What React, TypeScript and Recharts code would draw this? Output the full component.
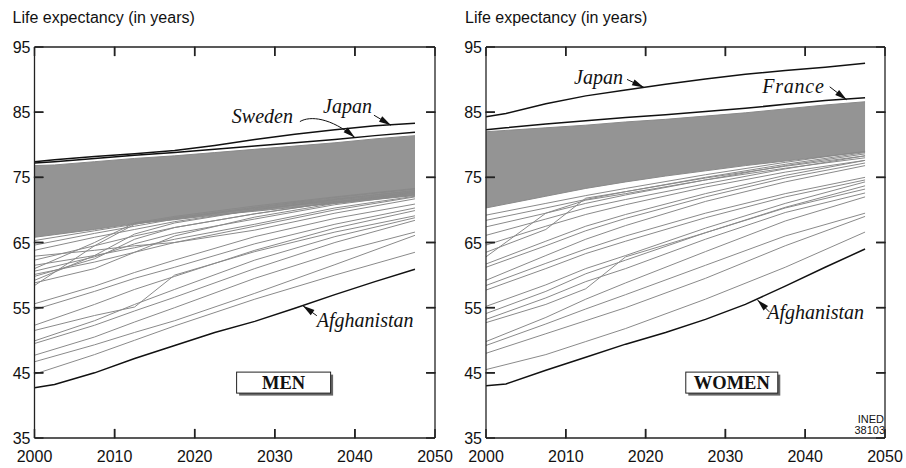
import React from 'react';
import { ComposedChart, Line, Area, XAxis, YAxis, ReferenceDot } from 'recharts';

// ---------- data ----------
const keyYears = [2000, 2002.5, 2007.5, 2012.5, 2017.5, 2022.5, 2027.5, 2032.5, 2037.5, 2042.5, 2047.5];
const grayYears = [2000, 2007.5, 2012.5, 2017.5, 2027.5, 2037.5, 2047.5];
const xTicks = [2000, 2010, 2020, 2030, 2040, 2050];
const yTicks = [35, 45, 55, 65, 75, 85, 95];

// MEN (highlighted countries, on keyYears)
const menJapan = [77.4, 77.7, 78.2, 78.6, 79.1, 79.9, 80.8, 81.6, 82.3, 82.9, 83.3];
const menSweden = [77.2, 77.4, 77.9, 78.4, 78.8, 79.3, 79.8, 80.3, 80.8, 81.4, 81.9];
const menAfghanistan = [42.7, 43.2, 45.0, 47.2, 49.2, 51.2, 52.9, 54.9, 57.0, 59.0, 60.9];
// MEN dense bundle of countries (envelope, on keyYears)
const menBandHigh = [76.8, 76.9, 77.4, 77.9, 78.3, 78.8, 79.3, 79.8, 80.3, 80.9, 81.4];
const menBandLow = [65.8, 66.2, 67.0, 67.9, 68.5, 69.2, 69.8, 70.4, 71.0, 71.6, 72.2];
// MEN other countries (on grayYears)
const menOthers = [
  [44.8, 47.8, 50.0, 52.2, 56.3, 60.0, 63.5],
  [46.7, 49.3, 51.2, 53.0, 57.2, 61.6, 66.1],
  [47.7, 50.5, 52.8, 55.0, 59.5, 63.4, 66.6],
  [49.5, 52.3, 54.5, 56.6, 61.0, 65.0, 68.4],
  [49.9, 53.0, 55.5, 57.8, 62.3, 65.9, 68.8],
  [51.5, 53.8, 55.1, 60.0, 63.6, 66.6, 69.1],
  [52.3, 55.5, 57.8, 59.8, 63.8, 67.2, 69.9],
  [54.7, 57.5, 59.5, 61.2, 64.8, 67.8, 70.3],
  [55.6, 58.3, 60.4, 62.3, 65.9, 68.7, 70.9],
  [58.4, 64.5, 67.8, 68.8, 70.4, 71.9, 73.2],
  [58.8, 61.0, 63.5, 66.0, 68.9, 71.0, 72.6],
  [59.2, 63.0, 66.3, 68.0, 70.0, 71.6, 73.0],
  [59.8, 62.5, 65.5, 67.3, 69.4, 71.2, 72.8],
  [60.1, 62.0, 63.5, 65.0, 67.5, 70.0, 72.0],
  [60.6, 62.8, 64.8, 66.4, 68.6, 70.8, 72.4],
  [61.0, 65.0, 68.0, 69.0, 70.6, 72.0, 73.3],
  [61.5, 63.0, 64.2, 65.5, 67.8, 70.3, 72.1],
  [62.3, 64.5, 66.0, 67.3, 69.4, 71.2, 72.6],
  [62.9, 63.8, 64.5, 65.0, 66.9, 69.5, 71.7],
  [63.8, 65.8, 67.0, 68.2, 70.0, 71.5, 72.7],
  [64.6, 66.4, 67.5, 68.6, 70.3, 71.7, 72.9],
  [65.3, 66.8, 67.8, 68.8, 70.2, 71.3, 72.3],
];

// WOMEN (highlighted countries, on keyYears)
const womenJapan = [84.3, 84.8, 86.3, 87.5, 88.4, 89.3, 90.1, 90.8, 91.4, 91.9, 92.5];
const womenFrance = [82.3, 82.6, 83.2, 83.7, 84.2, 84.6, 85.1, 85.6, 86.2, 86.8, 87.2];
const womenAfghanistan = [43.0, 43.3, 45.4, 47.4, 49.4, 51.2, 53.2, 55.5, 58.3, 61.2, 64.0];
// WOMEN dense bundle of countries (envelope, on keyYears)
const womenBandHigh = [82.0, 82.2, 82.6, 83.0, 83.5, 83.9, 84.4, 84.9, 85.5, 86.1, 86.6];
const womenBandLow = [70.3, 70.9, 72.1, 73.3, 74.3, 75.2, 76.0, 76.8, 77.5, 78.2, 78.9];
// WOMEN other countries (on grayYears)
const womenOthers = [
  [45.5, 47.8, 49.8, 51.8, 56.3, 61.2, 66.6],
  [48.0, 51.0, 53.0, 55.0, 59.5, 64.5, 69.0],
  [49.2, 52.5, 54.8, 57.0, 61.5, 66.0, 69.5],
  [49.8, 53.5, 56.3, 58.8, 63.6, 68.3, 72.0],
  [52.7, 55.5, 57.9, 62.8, 66.5, 70.3, 73.2],
  [53.2, 56.5, 59.0, 61.0, 65.5, 69.6, 72.6],
  [54.1, 57.5, 60.2, 62.3, 66.5, 70.4, 73.7],
  [55.2, 58.5, 61.0, 63.0, 67.2, 71.0, 74.3],
  [57.7, 61.0, 63.3, 65.2, 68.8, 72.0, 74.6],
  [58.4, 61.8, 64.0, 66.0, 69.5, 72.5, 75.0],
  [59.2, 63.0, 65.5, 67.6, 71.3, 74.3, 76.8],
  [61.2, 64.5, 66.8, 68.7, 72.0, 74.9, 77.2],
  [61.7, 65.2, 67.5, 69.3, 72.5, 75.3, 77.6],
  [62.8, 69.5, 71.5, 72.5, 74.6, 76.4, 78.0],
  [63.5, 67.0, 71.8, 72.8, 74.9, 76.7, 78.3],
  [64.6, 67.5, 69.3, 70.8, 73.5, 75.8, 77.6],
  [66.1, 68.6, 70.3, 71.6, 74.0, 76.3, 78.3],
  [67.4, 69.5, 71.0, 72.3, 74.6, 76.8, 78.6],
  [68.4, 70.3, 71.6, 72.8, 75.0, 77.0, 78.8],
  [69.2, 71.0, 72.2, 73.3, 75.4, 77.3, 79.0],
];

// ---------- styles ----------
const SANS = "'Liberation Sans', Arial, Helvetica, sans-serif";
const SERIF = "'Liberation Serif', 'Times New Roman', Times, serif";
const AXIS = '#222';
const GRAY = '#8a8a8a';
const BLACK = '#111';
const X_MIN = 2000, X_MAX = 2050, Y_MIN = 35, Y_MAX = 95;
const TICK_X = 1.1;  // inward tick length along x, in years
const TICK_Y = 1.4;  // inward tick length along y, in years of life
const TICK_PX = 9;

type Row = Record<string, any>;

function buildRows(black: Record<string, number[]>, low: number[], high: number[], others: number[][]): Row[] {
  return keyYears.map((year, i) => {
    const row: Row = { year, band: [low[i], high[i]] };
    Object.keys(black).forEach((k) => { row[k] = black[k][i]; });
    const gi = grayYears.indexOf(year);
    others.forEach((s, j) => { row['g' + j] = gi >= 0 ? s[gi] : null; });
    return row;
  });
}

const menRows = buildRows({ japan: menJapan, sweden: menSweden, afghanistan: menAfghanistan }, menBandLow, menBandHigh, menOthers);
const womenRows = buildRows({ japan: womenJapan, france: womenFrance, afghanistan: womenAfghanistan }, womenBandLow, womenBandHigh, womenOthers);

// ---------- tick labels (axis tick lines point inward via negative tickSize) ----------
const BottomTick = (p: any) => (
  <text x={p.x} y={p.y + 24} textAnchor="middle" fontFamily={SANS} fontSize={16} fill={BLACK} stroke="none">{p.payload.value}</text>
);
const LeftTick = (p: any) => (
  <text x={p.x - 4} y={p.y + 6} textAnchor="end" fontFamily={SANS} fontSize={16} fill={BLACK} stroke="none">{p.payload.value}</text>
);
const NoLabel = () => <g />;

// extra inward tick marks drawn through the chart scales (dot just inside the frame)
function tickMark(dx: number, dy: number) {
  return (p: any) => (
    <g>
      <path d={`M${p.cx},${p.cy} L${p.cx + dx},${p.cy + dy}`} stroke={AXIS} strokeWidth={1.5} fill="none" />
    </g>
  );
}
const tickToBottom = tickMark(0, 9.5);
const tickToTop = tickMark(0, -9.5);
const tickToLeft = tickMark(-9.5, 0);
const tickToRight = tickMark(9.5, 0);

// ---------- annotations ----------
type Note = {
  x: number; y: number; text: string; tx: number; ty: number; anchor: 'start' | 'end';
  tail: [number, number]; c1?: [number, number]; c2?: [number, number]; spacing?: number;
};

function noteShape(n: Note) {
  return (p: any) => {
    const cx = p.cx, cy = p.cy;
    const [ax, ay] = n.tail;
    const dx = n.c2 ? -n.c2[0] : -ax;
    const dy = n.c2 ? -n.c2[1] : -ay;
    const len = Math.hypot(dx, dy) || 1;
    const ux = dx / len, uy = dy / len;
    const hl = 12, hw = 3.2;
    const bx = cx - ux * hl, by = cy - uy * hl;
    const pts = `${cx},${cy} ${bx - uy * hw},${by + ux * hw} ${bx + uy * hw},${by - ux * hw}`;
    const d = n.c1 && n.c2
      ? `M${cx + ax},${cy + ay} C${cx + n.c1[0]},${cy + n.c1[1]} ${cx + n.c2[0]},${cy + n.c2[1]} ${cx},${cy}`
      : `M${cx + ax},${cy + ay} L${cx},${cy}`;
    return (
      <g>
        <path d={d} fill="none" stroke={BLACK} strokeWidth={1} />
        <polygon points={pts} fill={BLACK} />
        <text x={cx + n.tx} y={cy + n.ty} textAnchor={n.anchor} fontFamily={SERIF} fontStyle="italic"
          fontSize={20} letterSpacing={n.spacing ?? 0} fill={BLACK}>{n.text}</text>
      </g>
    );
  };
}

function boxShape(label: string, w: number) {
  return (p: any) => {
    const cx = p.cx, cy = p.cy, h = 21;
    return (
      <g>
        <rect x={cx - w / 2 + 2.5} y={cy - h / 2 + 2.5} width={w} height={h} fill="#666" />
        <rect x={cx - w / 2} y={cy - h / 2} width={w} height={h} fill="#fff" stroke="#222" strokeWidth={1} />
        <text x={cx} y={cy + 6.5} textAnchor="middle" fontFamily={SERIF} fontWeight="bold" fontSize={18.5} fill={BLACK}>{label}</text>
      </g>
    );
  };
}

const menNotes: Note[] = [
  { x: 2044.5, y: 83.0, text: 'Japan', tx: -19, ty: -12, anchor: 'end', tail: [-17, -10] },
  { x: 2040, y: 81.1, text: 'Sweden', tx: -62, ty: -15, anchor: 'end', tail: [-55, -16], c1: [-45, -22], c2: [-24, -20] },
  { x: 2033.5, y: 55.3, text: 'Afghanistan', tx: 14, ty: 21, anchor: 'start', tail: [14, 10] },
];
const womenNotes: Note[] = [
  { x: 2019.8, y: 88.8, text: 'Japan', tx: -21, ty: -3, anchor: 'end', tail: [-17, -8] },
  { x: 2045.2, y: 86.9, text: 'France', tx: -22, ty: -7, anchor: 'end', tail: [-17, -13], spacing: 0.8 },
  { x: 2034, y: 56.2, text: 'Afghanistan', tx: 10, ty: 19, anchor: 'start', tail: [12, 12] },
];

// ---------- panel ----------
type PanelProps = {
  left: number; rows: Row[]; blackKeys: string[]; othersCount: number;
  margin: { top: number; right: number; bottom: number; left: number };
  notes: Note[]; box: { x: number; y: number; label: string; w: number };
};

function Panel({ left, rows, blackKeys, othersCount, margin, notes, box }: PanelProps) {
  const grays = Array.from({ length: othersCount }, (_, j) => 'g' + j);
  const innerX = xTicks.filter((t) => t > X_MIN && t < X_MAX);
  const innerY = yTicks.filter((t) => t > Y_MIN && t < Y_MAX);
  const tickLineStyle = { stroke: AXIS, strokeWidth: 1.5 };
  return (
    <div style={{ position: 'absolute', left, top: 0 }}>
      <ComposedChart width={453} height={468} data={rows} margin={margin}>
        <Area xAxisId="b" yAxisId="l" dataKey="band" type="linear" stroke={GRAY} strokeWidth={1}
          fill="#949494" fillOpacity={1} isAnimationActive={false} dot={false} activeDot={false} />
        {grays.map((k) => (
          <Line key={k} xAxisId="b" yAxisId="l" dataKey={k} type="linear" stroke={GRAY} strokeWidth={1}
            dot={false} activeDot={false} connectNulls isAnimationActive={false} />
        ))}
        {blackKeys.map((k) => (
          <Line key={k} xAxisId="b" yAxisId="l" dataKey={k} type="linear" stroke={BLACK} strokeWidth={1.5}
            dot={false} activeDot={false} isAnimationActive={false} />
        ))}
        <XAxis xAxisId="b" dataKey="year" type="number" domain={[X_MIN, X_MAX]} ticks={xTicks} interval={0}
          orientation="bottom" height={1} tickSize={-TICK_PX} tickMargin={TICK_PX} tickLine={tickLineStyle}
          axisLine={{ stroke: AXIS, strokeWidth: 1.3 }} tick={BottomTick} allowDataOverflow />
        <XAxis xAxisId="t" dataKey="year" type="number" domain={[X_MIN, X_MAX]} ticks={xTicks} interval={0}
          orientation="top" height={1} tickSize={-TICK_PX} tickMargin={TICK_PX} tickLine={tickLineStyle}
          axisLine={{ stroke: AXIS, strokeWidth: 1.3 }} tick={NoLabel} allowDataOverflow />
        <YAxis yAxisId="l" type="number" domain={[Y_MIN, Y_MAX]} ticks={yTicks} interval={0} orientation="left"
          width={1} tickSize={-TICK_PX} tickMargin={TICK_PX} tickLine={tickLineStyle}
          axisLine={{ stroke: AXIS, strokeWidth: 1.3 }} tick={LeftTick} allowDataOverflow />
        <YAxis yAxisId="r" type="number" domain={[Y_MIN, Y_MAX]} ticks={yTicks} interval={0} orientation="right"
          width={1} tickSize={-TICK_PX} tickMargin={TICK_PX} tickLine={tickLineStyle}
          axisLine={{ stroke: AXIS, strokeWidth: 1.3 }} tick={NoLabel} allowDataOverflow />
        {innerX.map((t) => (
          <ReferenceDot key={'xb' + t} xAxisId="b" yAxisId="l" x={t} y={Y_MIN + TICK_Y} r={1} fill="none" stroke="none" ifOverflow="visible" shape={tickToBottom} />
        ))}
        {innerX.map((t) => (
          <ReferenceDot key={'xt' + t} xAxisId="b" yAxisId="l" x={t} y={Y_MAX - TICK_Y} r={1} fill="none" stroke="none" ifOverflow="visible" shape={tickToTop} />
        ))}
        {innerY.map((t) => (
          <ReferenceDot key={'yl' + t} xAxisId="b" yAxisId="l" x={X_MIN + TICK_X} y={t} r={1} fill="none" stroke="none" ifOverflow="visible" shape={tickToLeft} />
        ))}
        {innerY.map((t) => (
          <ReferenceDot key={'yr' + t} xAxisId="b" yAxisId="l" x={X_MAX - TICK_X} y={t} r={1} fill="none" stroke="none" ifOverflow="visible" shape={tickToRight} />
        ))}
        {notes.map((n) => (
          <ReferenceDot key={n.text} xAxisId="b" yAxisId="l" x={n.x} y={n.y} r={0} ifOverflow="visible" shape={noteShape(n)} />
        ))}
        <ReferenceDot xAxisId="b" yAxisId="l" x={box.x} y={box.y} r={0} ifOverflow="visible" shape={boxShape(box.label, box.w)} />
      </ComposedChart>
    </div>
  );
}

export default function App() {
  return (
    <div style={{ position: 'absolute', left: 0, top: 0, width: 906, height: 468, background: '#fff', overflow: 'hidden' }}>
      <Panel left={0} rows={menRows} blackKeys={['japan', 'sweden', 'afghanistan']} othersCount={menOthers.length}
        margin={{ top: 46, right: 17, bottom: 29, left: 33.5 }} notes={menNotes}
        box={{ x: 2031.1, y: 43.5, label: 'MEN', w: 94 }} />
      <Panel left={453} rows={womenRows} blackKeys={['japan', 'france', 'afghanistan']} othersCount={womenOthers.length}
        margin={{ top: 46, right: 20, bottom: 29, left: 32 }} notes={womenNotes}
        box={{ x: 2030.8, y: 43.5, label: 'WOMEN', w: 92 }} />
      <svg width={906} height={468} style={{ position: 'absolute', left: 0, top: 0, pointerEvents: 'none' }}>
        <text x={12.5} y={23} fontFamily={SANS} fontSize={16} fill={BLACK}>Life expectancy (in years)</text>
        <text x={465} y={23} fontFamily={SANS} fontSize={16} fill={BLACK}>Life expectancy (in years)</text>
        <text x={884} y={423} textAnchor="end" fontFamily={"'Liberation Sans Narrow', " + SANS} fontSize={11} fill={BLACK}>INED</text>
        <text x={885} y={434} textAnchor="end" fontFamily={"'Liberation Sans Narrow', " + SANS} fontSize={11} fill={BLACK}>38103</text>
      </svg>
    </div>
  );
}
